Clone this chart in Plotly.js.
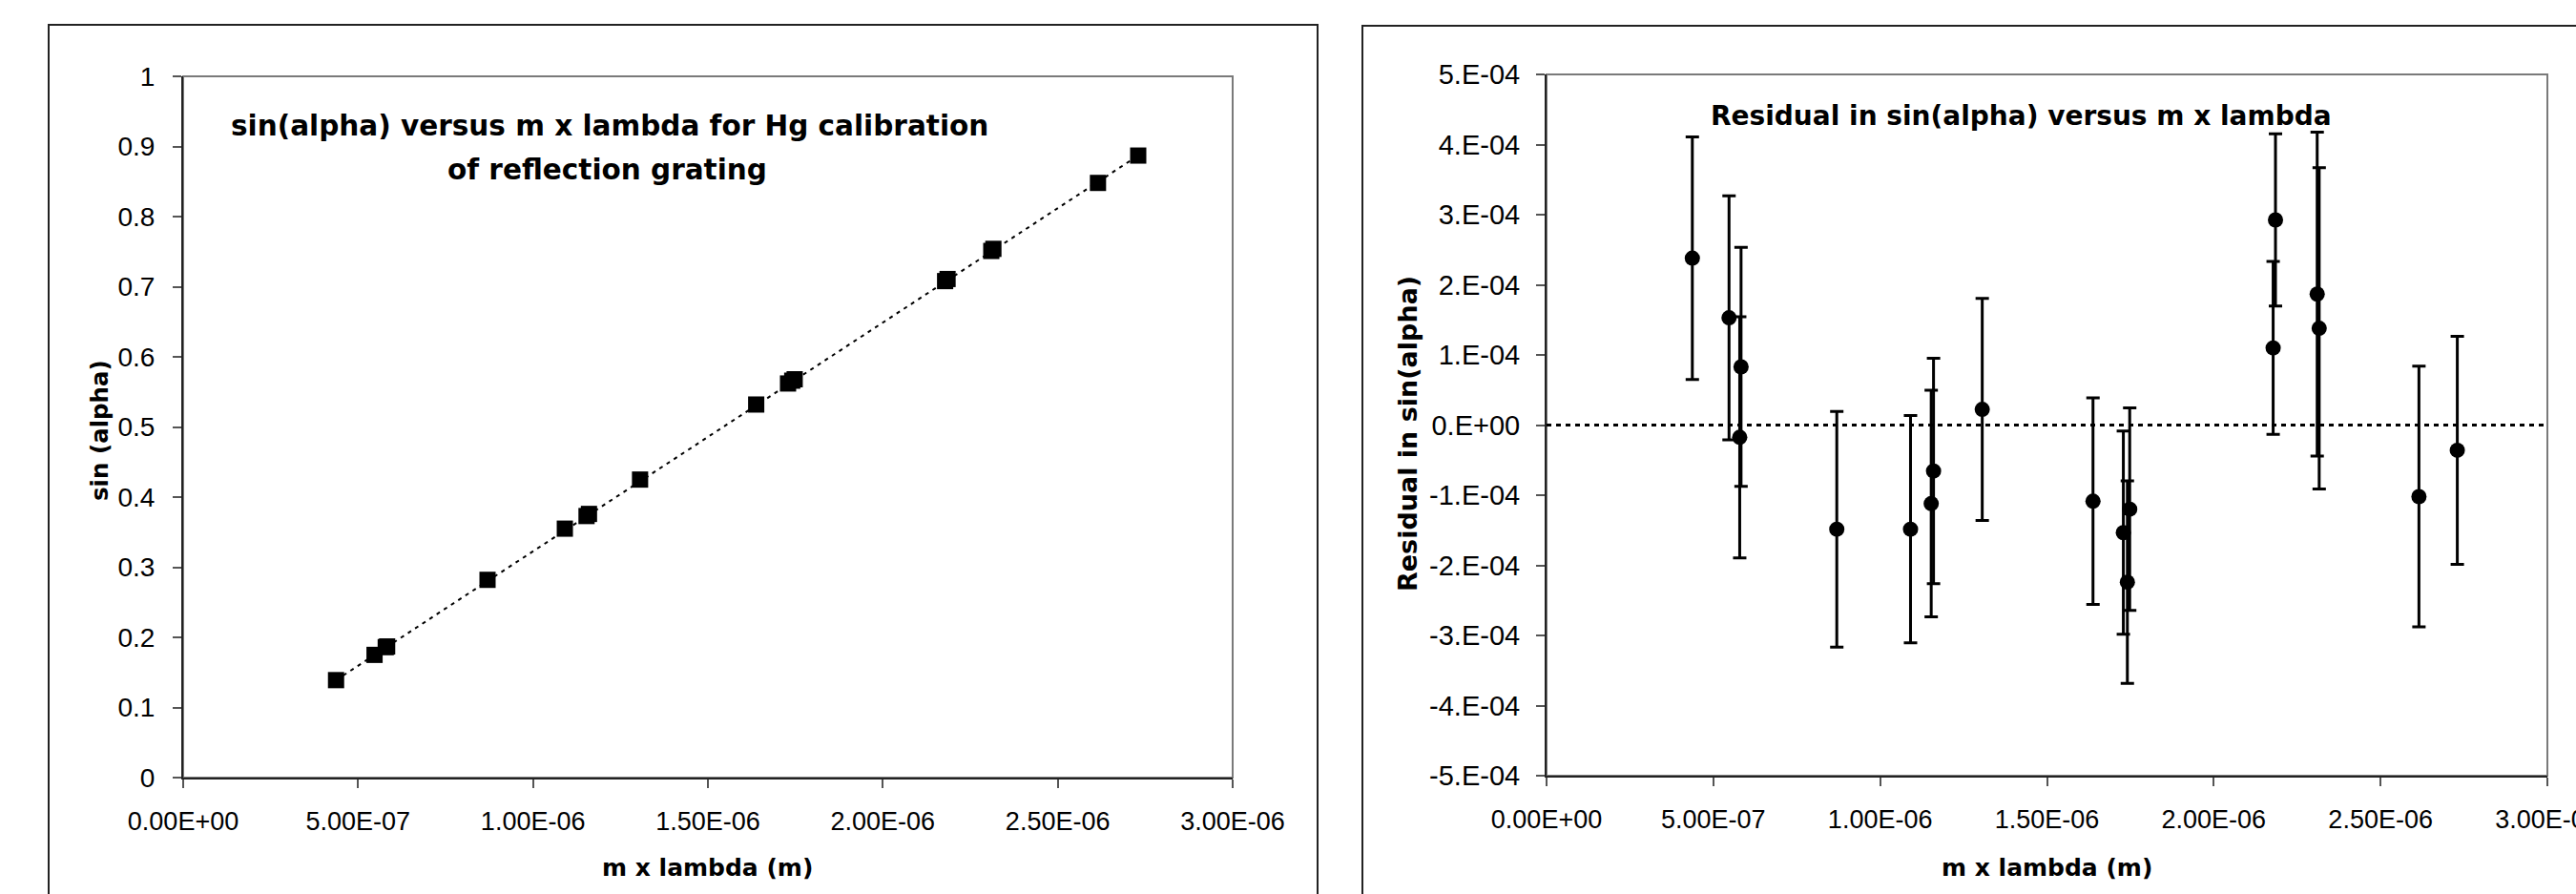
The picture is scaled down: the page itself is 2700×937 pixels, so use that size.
<!DOCTYPE html>
<html>
<head>
<meta charset="utf-8">
<script src="https://cdn.plot.ly/plotly-3.0.1.min.js"></script>
<style>
html,body{margin:0;padding:0;overflow:hidden;background:#fff;}
#chart{width:2760px;height:1000px;}
</style>
</head>
<body>
<div id="chart"></div>
<script>
// ---- data ----
const mLambda = [4.37e-7, 5.47e-7, 5.79e-7, 5.83e-7, 8.70e-7, 1.091e-6, 1.153e-6, 1.160e-6, 1.306e-6,
                 1.638e-6, 1.729e-6, 1.741e-6, 1.748e-6, 2.178e-6, 2.185e-6, 2.310e-6, 2.316e-6, 2.615e-6, 2.730e-6];
const sinAlpha = [0.139, 0.175, 0.186, 0.187, 0.282, 0.355, 0.373, 0.376, 0.425,
                  0.532, 0.562, 0.566, 0.568, 0.708, 0.711, 0.751, 0.754, 0.848, 0.887];
const residual = [2.38e-4, 1.53e-4, -1.75e-5, 8.3e-5, -1.485e-4, -1.485e-4, -1.12e-4, -6.55e-5, 2.24e-5,
                  -1.086e-4, -1.534e-4, -2.24e-4, -1.20e-4, 1.10e-4, 2.925e-4, 1.867e-4, 1.38e-4, -1.02e-4, -3.6e-5];
const residualErr = [1.73e-4, 1.74e-4, 1.72e-4, 1.705e-4, 1.68e-4, 1.62e-4, 1.615e-4, 1.607e-4, 1.583e-4,
                     1.473e-4, 1.448e-4, 1.444e-4, 1.444e-4, 1.233e-4, 1.229e-4, 2.31e-4, 2.29e-4, 1.859e-4, 1.627e-4];
const fitX = [4.37e-7, 2.730e-6];
const fitY = [0.139, 0.887];
const zeroX = [0, 3e-6];
const zeroY = [0, 0];

const xTickVals = [0, 5e-7, 1e-6, 1.5e-6, 2e-6, 2.5e-6, 3e-6];
const xTickText = ["0.00E+00", "5.00E-07", "1.00E-06", "1.50E-06", "2.00E-06", "2.50E-06", "3.00E-06"];
const leftYTickVals = [0, 0.1, 0.2, 0.3, 0.4, 0.5, 0.6, 0.7, 0.8, 0.9, 1];
const leftYTickText = ["0", "0.1", "0.2", "0.3", "0.4", "0.5", "0.6", "0.7", "0.8", "0.9", "1"];
const rightYTickVals = [-5e-4, -4e-4, -3e-4, -2e-4, -1e-4, 0, 1e-4, 2e-4, 3e-4, 4e-4, 5e-4];
const rightYTickText = ["-5.E-04", "-4.E-04", "-3.E-04", "-2.E-04", "-1.E-04", "0.E+00", "1.E-04", "2.E-04", "3.E-04", "4.E-04", "5.E-04"];

const leftTitle1 = "sin(alpha) versus m x lambda for Hg calibration";
const leftTitle2 = "of reflection grating";
const rightTitle = "Residual in sin(alpha) versus m x lambda";
const xTitle = "m x lambda (m)";
const leftYTitle = "sin (alpha)";
const rightYTitle = "Residual in sin(alpha)";

// ---- layout helpers (pixel -> paper) ----
const W = 2760, H = 1000;
const px = v => v / W;
const py = v => 1 - v / H;

const tickFont = s => ({family: "Liberation Sans, Arial, sans-serif", size: s, color: "#000"});
const boldFont = s => ({family: "DejaVu Sans, sans-serif", size: s, color: "#000"});

function axisBase(extra) {
  return Object.assign({
    tickmode: "array", ticks: "outside", ticklen: 9, tickwidth: 2, tickcolor: "#555",
    showline: true, linecolor: "#222", linewidth: 2, mirror: false,
    showgrid: false, zeroline: false, fixedrange: true
  }, extra);
}

const traces = [
  {x: fitX, y: fitY, xaxis: "x", yaxis: "y", mode: "lines",
   line: {color: "#000", width: 2, dash: "4px,5px"}, hoverinfo: "skip", showlegend: false},
  {x: mLambda, y: sinAlpha, xaxis: "x", yaxis: "y", mode: "markers",
   marker: {symbol: "square", size: 17, color: "#000"}, hoverinfo: "skip", showlegend: false},
  {x: zeroX, y: zeroY, xaxis: "x2", yaxis: "y2", mode: "lines",
   line: {color: "#000", width: 3, dash: "5px,5px"}, hoverinfo: "skip", showlegend: false},
  {x: mLambda, y: residual, xaxis: "x2", yaxis: "y2", mode: "markers",
   marker: {symbol: "circle", size: 16, color: "#000"},
   error_y: {type: "data", array: residualErr, visible: true, color: "#000", thickness: 3, width: 7},
   hoverinfo: "skip", showlegend: false}
];

const layout = {
  width: W, height: H,
  margin: {l: 0, r: 0, t: 0, b: 0},
  paper_bgcolor: "#fff", plot_bgcolor: "#fff",
  showlegend: false,
  xaxis: axisBase({domain: [px(192), px(1292)], range: [0, 3e-6], anchor: "y",
    tickvals: xTickVals, ticktext: xTickText, tickfont: tickFont(27), ticklabelstandoff: 12}),
  yaxis: axisBase({domain: [py(815), py(80)], range: [0, 1], anchor: "x",
    tickvals: leftYTickVals, ticktext: leftYTickText, tickfont: tickFont(28), ticklabelstandoff: 13}),
  xaxis2: axisBase({domain: [px(1621), px(2670)], range: [0, 3e-6], anchor: "y2",
    tickvals: xTickVals, ticktext: xTickText, tickfont: tickFont(27), ticklabelstandoff: 12}),
  yaxis2: axisBase({domain: [py(813), py(78)], range: [-5e-4, 5e-4], anchor: "x2",
    tickvals: rightYTickVals, ticktext: rightYTickText, tickfont: tickFont(29), ticklabelstandoff: 11}),
  shapes: [
    {type: "rect", xref: "x domain", yref: "y domain", x0: 0, x1: 1, y0: 0, y1: 1,
     line: {color: "#7a7a7a", width: 2}, layer: "below"},
    {type: "rect", xref: "x2 domain", yref: "y2 domain", x0: 0, x1: 1, y0: 0, y1: 1,
     line: {color: "#7a7a7a", width: 2}, layer: "below"},
    {type: "rect", xref: "paper", yref: "paper", x0: px(51), x1: px(1381), y0: py(995), y1: py(26),
     line: {color: "#222", width: 2}, layer: "below"},
    {type: "rect", xref: "paper", yref: "paper", x0: px(1428), x1: px(2755), y0: py(995), y1: py(27),
     line: {color: "#222", width: 2}, layer: "below"}
  ],
  annotations: [
    {text: "<b>" + leftTitle1 + "</b>", x: px(639), y: py(132), font: boldFont(29.5)},
    {text: "<b>" + leftTitle2 + "</b>", x: px(636), y: py(178), font: boldFont(29.5)},
    {text: "<b>" + rightTitle + "</b>", x: px(2118), y: py(121), font: boldFont(28)},
    {text: "<b>" + xTitle + "</b>", x: px(741), y: py(909), font: boldFont(25)},
    {text: "<b>" + xTitle + "</b>", x: px(2145), y: py(909), font: boldFont(25)},
    {text: "<b>" + leftYTitle + "</b>", x: px(104), y: py(451), textangle: -90, font: boldFont(24.5)},
    {text: "<b>" + rightYTitle + "</b>", x: px(1475), y: py(455), textangle: -90, font: boldFont(27)}
  ].map(a => Object.assign({xref: "paper", yref: "paper", showarrow: false,
                            xanchor: "center", yanchor: "middle"}, a))
};

Plotly.newPlot("chart", traces, layout, {staticPlot: true, displayModeBar: false});
</script>
</body>
</html>
